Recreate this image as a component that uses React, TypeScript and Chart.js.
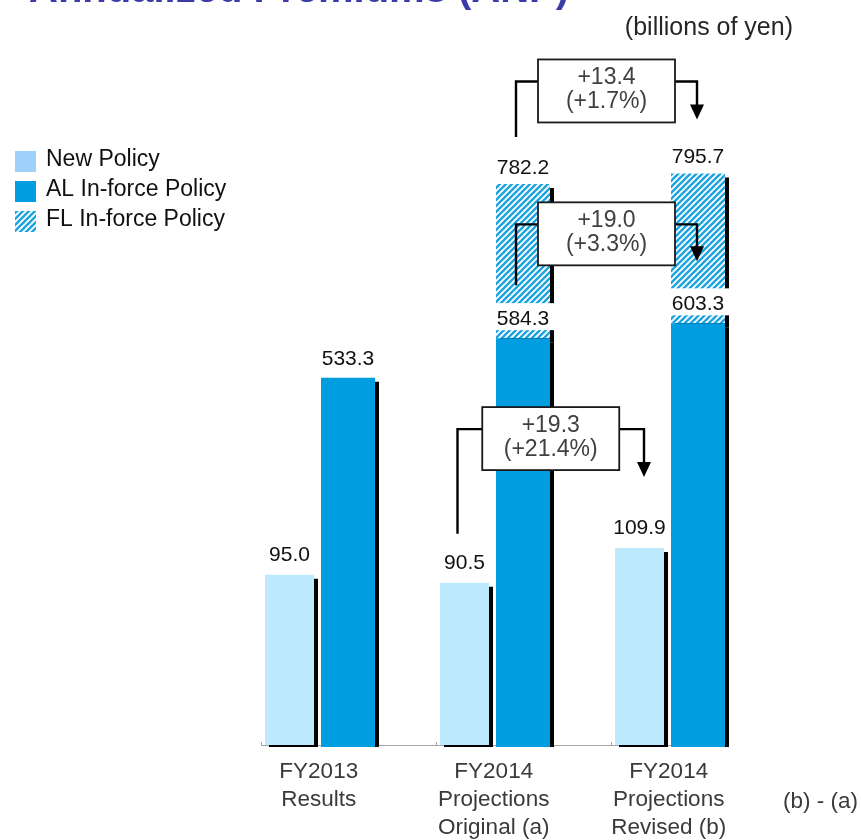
import React, { useEffect, useRef } from "react";
import { Chart, registerables } from "chart.js";

Chart.register(...registerables);

// ---- data -------------------------------------------------------------
const categories: string[][] = [
  ["FY2013", "Results"],
  ["FY2014", "Projections", "Original (a)"],
  ["FY2014", "Projections", "Revised (b)"],
];
const newPolicy = [95.0, 90.5, 109.9];
const alInForce = [533.3, 584.3, 603.3];
const inForceTotal: (number | null)[] = [null, 782.2, 795.7];
const seriesNames = ["New Policy", "AL In-force Policy", "FL In-force Policy"];
const changeAmounts = ["+13.4", "+19.0", "+19.3"];
const changeRates = ["(+1.7%)", "(+3.3%)", "(+21.4%)"];
const titleText = "Annualized Premiums (ANP)";
const unitText = "(billions of yen)";
const diffText = "(b) - (a)";

// FL segment sits on top of the AL bar, so its height is total - AL
const flInForce = inForceTotal.map((t, i) =>
  t == null ? null : Math.round((t - alInForce[i]) * 10) / 10
);

// ---- styling ----------------------------------------------------------
const FONT = "'Liberation Sans', Arial, Helvetica, sans-serif";
const NEW_COLOR = "#bdebfd";
const NEW_KEY = "#9fd0fa";
const AL_COLOR = "#009de0";
const HATCH_COLOR = "#1da3df";

// change brackets: which series they join and where their lines sit
const brackets = [
  { ds: 2, from: 1, to: 2, text: 0, level: -92, leftEnd: -47, tip: -54, rightDx: -1 },
  { ds: 1, from: 1, to: 2, text: 1, level: -99, leftEnd: -53, tip: -62, rightDx: -1 },
  { ds: 0, from: 1, to: 2, text: 2, level: -119, leftEnd: -49, tip: -71, rightDx: 4.5 },
];

function makeHatch(ctx: CanvasRenderingContext2D): CanvasPattern | string {
  const s = 6;
  const c = document.createElement("canvas");
  c.width = s;
  c.height = s;
  const p = c.getContext("2d");
  if (!p) return HATCH_COLOR;
  p.fillStyle = "#ffffff";
  p.fillRect(0, 0, s, s);
  p.strokeStyle = HATCH_COLOR;
  p.lineWidth = 2.4;
  for (let k = -1; k <= 1; k++) {
    p.beginPath();
    p.moveTo(k * s - 1, s + 1);
    p.lineTo(k * s + s + 1, -1);
    p.stroke();
  }
  return ctx.createPattern(c, "repeat") || HATCH_COLOR;
}

export default function App() {
  const canvasRef = useRef<HTMLCanvasElement | null>(null);

  useEffect(() => {
    const canvas = canvasRef.current;
    if (!canvas) return;
    const ctx = canvas.getContext("2d");
    if (!ctx) return;
    const hatch = makeHatch(ctx);

    const decorations = {
      id: "decorations",
      beforeDatasetsDraw(chart: any) {
        const c = chart.ctx as CanvasRenderingContext2D;
        const light = chart.getDatasetMeta(0).data;
        const dark = chart.getDatasetMeta(1).data;
        const baseY = chart.chartArea.bottom;
        // baseline with small ticks at the start of each group
        c.save();
        c.strokeStyle = "#a6a6a6";
        c.lineWidth = 1;
        const x0 = light[0].x - light[0].width / 2 - 4;
        const x1 = dark[dark.length - 1].x + dark[dark.length - 1].width / 2 + 2;
        c.beginPath();
        c.moveTo(x0, baseY + 0.5);
        c.lineTo(x1, baseY + 0.5);
        for (const el of light) {
          const tx = Math.round(el.x - el.width / 2 - 4) + 0.5;
          c.moveTo(tx, baseY - 3);
          c.lineTo(tx, baseY + 1);
        }
        c.stroke();
        c.restore();
        // drop shadow under every bar
        c.save();
        c.shadowColor = "#000000";
        c.shadowOffsetX = 4;
        c.shadowOffsetY = 4;
        c.shadowBlur = 0;
      },
      afterDatasetsDraw(chart: any) {
        const c = chart.ctx as CanvasRenderingContext2D;
        c.restore();

        const light = chart.getDatasetMeta(0).data;
        const dark = chart.getDatasetMeta(1).data;
        const fl = chart.getDatasetMeta(2).data;

        c.save();
        c.font = `21px ${FONT}`;
        c.textAlign = "center";
        c.textBaseline = "alphabetic";
        c.fillStyle = "#111111";
        light.forEach((el: any, i: number) => {
          c.fillText(newPolicy[i].toFixed(1), el.x, el.y - 14);
        });
        dark.forEach((el: any, i: number) => {
          const txt = alInForce[i].toFixed(1);
          if (inForceTotal[i] != null) {
            const w = c.measureText(txt).width + 10;
            c.fillStyle = "#ffffff";
            c.fillRect(el.x - w / 2, el.y - 35, w, 27);
            c.fillStyle = "#111111";
          }
          c.fillText(txt, el.x, el.y - 13);
        });
        fl.forEach((el: any, i: number) => {
          const t = inForceTotal[i];
          if (t == null) return;
          c.fillText(t.toFixed(1), el.x, el.y - 10);
        });
        c.restore();

        // change brackets with boxed amounts
        for (const b of brackets) {
          const meta = chart.getDatasetMeta(b.ds).data;
          const fromEl = meta[b.from];
          const toEl = meta[b.to];
          const lx = fromEl.x - 7;
          const rx = toEl.x + b.rightDx;
          const level = toEl.y + b.level;
          const leftEnd = fromEl.y + b.leftEnd;
          const tip = toEl.y + b.tip;
          const cx = (lx + rx) / 2;
          const bw = 137;
          const bh = 63;
          const bt = level - 22;
          c.save();
          c.strokeStyle = "#000000";
          c.lineWidth = 2.4;
          c.lineJoin = "miter";
          c.beginPath();
          c.moveTo(lx, leftEnd);
          c.lineTo(lx, level);
          c.lineTo(cx - bw / 2, level);
          c.stroke();
          c.beginPath();
          c.moveTo(cx + bw / 2, level);
          c.lineTo(rx, level);
          c.lineTo(rx, tip - 13);
          c.stroke();
          c.fillStyle = "#000000";
          c.beginPath();
          c.moveTo(rx - 7, tip - 15);
          c.lineTo(rx + 7, tip - 15);
          c.lineTo(rx, tip);
          c.closePath();
          c.fill();
          c.fillStyle = "#ffffff";
          c.fillRect(cx - bw / 2, bt, bw, bh);
          c.lineWidth = 1.8;
          c.strokeStyle = "#1a1a1a";
          c.strokeRect(cx - bw / 2, bt, bw, bh);
          c.fillStyle = "#404040";
          c.font = `23px ${FONT}`;
          c.textAlign = "center";
          c.textBaseline = "middle";
          c.fillText(changeAmounts[b.text], cx, bt + bh / 2 - 13);
          c.fillText(changeRates[b.text], cx, bt + bh / 2 + 11);
          c.restore();
        }
      },
      afterDraw(chart: any) {
        const c = chart.ctx as CanvasRenderingContext2D;
        c.save();
        // title (runs off the top edge)
        c.font = `bold 40px ${FONT}`;
        c.fillStyle = "#3a3aa8";
        c.textAlign = "left";
        c.textBaseline = "alphabetic";
        const lead = c.measureText("Annualized Premiums ").width;
        c.fillText(titleText, 458 - lead, 1.5);

        // unit
        c.font = `25px ${FONT}`;
        c.fillStyle = "#262626";
        c.textAlign = "right";
        c.textBaseline = "middle";
        c.fillText(unitText, 793, 28);

        // difference column heading
        c.font = `22.5px ${FONT}`;
        c.fillStyle = "#3a3a3a";
        c.textAlign = "left";
        c.fillText(diffText, 783, 802);

        // legend
        const keyFills: (string | CanvasPattern)[] = [NEW_KEY, AL_COLOR, hatch];
        c.font = `23px ${FONT}`;
        c.textBaseline = "alphabetic";
        seriesNames.forEach((name, i) => {
          const y = 151 + i * 30;
          c.fillStyle = keyFills[i] as any;
          c.fillRect(15, y, 21, 21);
          c.fillStyle = "#111111";
          c.fillText(name, 46, y + 15);
        });
        c.restore();
      },
    };

    const clip = { left: false, right: false, top: false, bottom: 2 } as any;
    const chart = new Chart(canvas, {
      type: "bar",
      data: {
        labels: categories,
        datasets: [
          {
            label: seriesNames[0],
            data: newPolicy,
            backgroundColor: NEW_COLOR,
            borderWidth: 0,
            yAxisID: "y",
            stack: "new",
            barPercentage: 0.838,
            categoryPercentage: 0.6686,
            clip,
          },
          {
            label: seriesNames[1],
            data: alInForce,
            backgroundColor: AL_COLOR,
            borderWidth: 0,
            yAxisID: "y2",
            stack: "inforce",
            barPercentage: 0.923,
            categoryPercentage: 0.6686,
            clip,
          },
          {
            label: seriesNames[2],
            data: flInForce as any,
            backgroundColor: hatch as any,
            borderWidth: 0,
            yAxisID: "y2",
            stack: "inforce",
            barPercentage: 0.923,
            categoryPercentage: 0.6686,
            clip,
          },
        ],
      },
      options: {
        responsive: false,
        animation: false,
        devicePixelRatio: 1,
        events: [],
        layout: { padding: { left: 231.25, right: 104.75, top: 100, bottom: 0 } },
        plugins: {
          legend: { display: false },
          tooltip: { enabled: false },
          title: { display: false },
        },
        scales: {
          x: {
            grid: { display: false, drawTicks: false },
            border: { display: false },
            ticks: {
              autoSkip: false,
              maxRotation: 0,
              padding: 13,
              color: "#3a3a3a",
              font: { family: FONT, size: 22.5, lineHeight: 28 / 22.5 },
            },
            afterFit: (scale: any) => {
              scale.height = 95;
            },
          },
          y: { display: false, min: 0, max: 360 },
          y2: { display: false, min: 62, max: 890 },
        },
      },
      plugins: [decorations],
    });

    return () => chart.destroy();
  }, []);

  return (
    <div
      style={{
        position: "fixed",
        left: 0,
        top: 0,
        width: 861,
        height: 840,
        background: "#ffffff",
      }}
    >
      <canvas
        ref={canvasRef}
        width={861}
        height={840}
        style={{ display: "block", width: 861, height: 840 }}
      />
    </div>
  );
}
